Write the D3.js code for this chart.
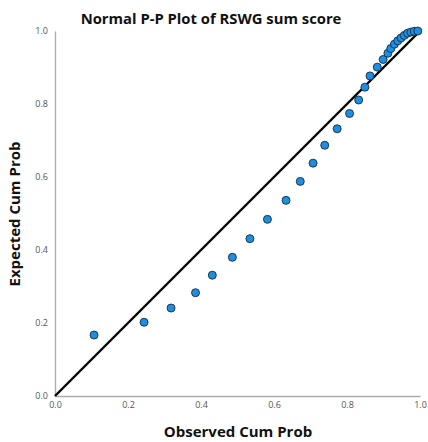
<!DOCTYPE html>
<html><head><meta charset="utf-8">
<script src="https://cdn.jsdelivr.net/npm/d3@7"></script>
<style>body{margin:0;background:#fff}svg{display:block}</style>
</head><body>
<script>
const observed = [0.107,0.244,0.318,0.385,0.431,0.486,0.534,0.582,0.633,0.672,0.707,0.739,0.773,0.807,0.832,0.849,0.863,0.883,0.899,0.912,0.920,0.930,0.939,0.948,0.957,0.966,0.975,0.984,0.994];
const expected = [0.167,0.202,0.241,0.283,0.331,0.380,0.431,0.484,0.536,0.588,0.638,0.687,0.732,0.774,0.811,0.846,0.877,0.901,0.922,0.939,0.952,0.964,0.973,0.981,0.988,0.994,0.997,0.999,1.000];
const tickValues = [0,0.2,0.4,0.6,0.8,1.0];
const title = "Normal P-P Plot of RSWG sum score";
const xTitle = "Observed Cum Prob";
const yTitle = "Expected Cum Prob";

const W=428,H=442;
const svg=d3.select("body").append("svg").attr("width",W).attr("height",H);
const x=d3.scaleLinear().domain([0,1]).range([55,420]);
const y=d3.scaleLinear().domain([0,1]).range([396,31]);
const font="'Open Sans', 'DejaVu Sans', sans-serif";

svg.append("text").attr("x",211).attr("y",24).attr("text-anchor","middle")
  .attr("font-family",font).attr("font-weight","bold").attr("font-size",14.8).attr("fill","#111").text(title);

const xa=svg.append("g").attr("transform","translate(0,396)").call(d3.axisBottom(x).tickValues(tickValues).tickFormat(d3.format(".1f")).tickSize(0).tickPadding(6));
const ya=svg.append("g").attr("transform","translate(55,0)").call(d3.axisLeft(y).tickValues(tickValues).tickFormat(d3.format(".1f")).tickSize(0).tickPadding(7));
[xa,ya].forEach(a=>{
  a.select(".domain").attr("stroke","#aaa").attr("stroke-width",1.3);
  a.selectAll("text").attr("font-family",font).attr("font-size",9).attr("fill","#555");
});

svg.append("text").attr("x",238).attr("y",437).attr("text-anchor","middle")
  .attr("font-family",font).attr("font-weight","bold").attr("font-size",15).attr("fill","#111").text(xTitle);
svg.append("text").attr("transform","translate(20,214) rotate(-90)").attr("text-anchor","middle")
  .attr("font-family",font).attr("font-weight","bold").attr("font-size",15).attr("fill","#111").text(yTitle);

svg.append("line").attr("x1",x(0)).attr("y1",y(0)).attr("x2",x(1)).attr("y2",y(1))
  .attr("stroke","#000").attr("stroke-width",2.4);

svg.append("g").selectAll("circle").data(observed).join("circle")
  .attr("cx",d=>x(d)).attr("cy",(d,i)=>y(expected[i])).attr("r",4)
  .attr("fill","#1b8fe3").attr("stroke","#1a2a3a").attr("stroke-width",0.9);
</script>
</body></html>
